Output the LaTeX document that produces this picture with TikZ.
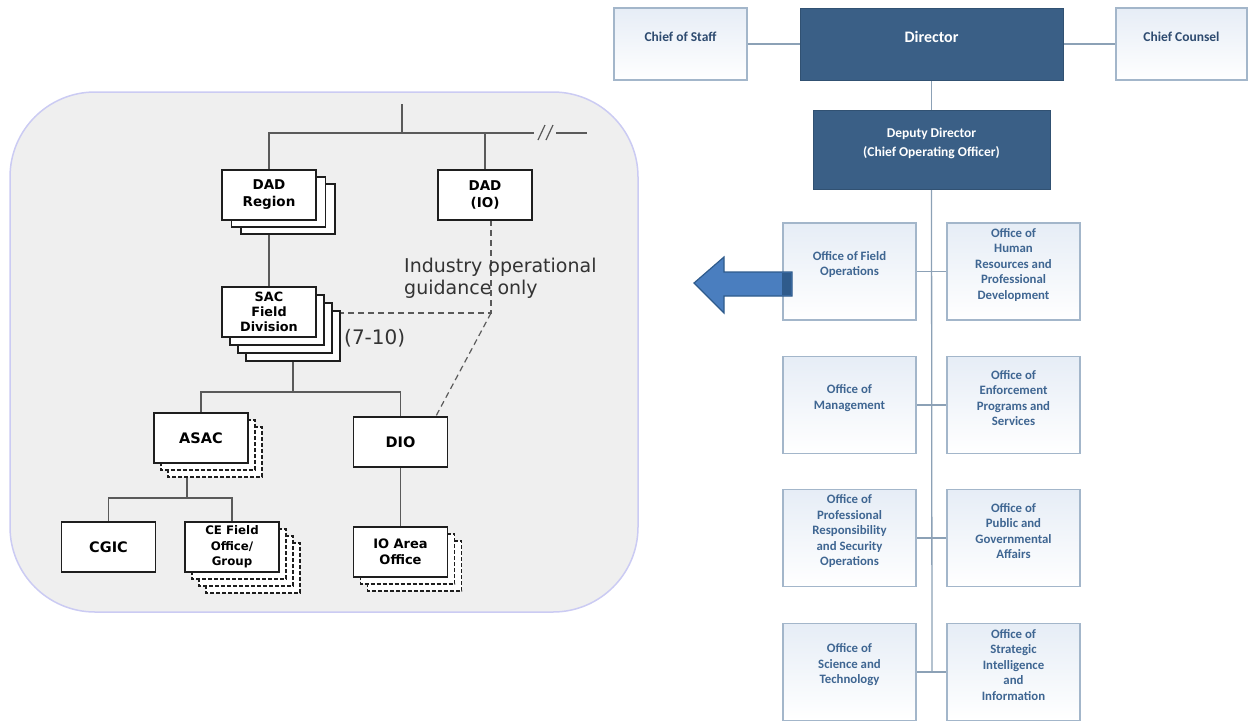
\documentclass[tikz,border=0pt]{standalone}
\usepackage{fontspec}
\usepackage{tikz}
\usetikzlibrary{positioning, backgrounds, calc}
\setmainfont{DejaVu Sans}
\newfontfamily\vfont{DejaVu Sans}
\newfontfamily\cfont{Carlito}
\pgfdeclarelayer{lines}
\pgfsetlayers{background,lines,main}
\definecolor{panelgray}{HTML}{EFEFEF}
\definecolor{panelrim}{HTML}{CBCBF3}
\definecolor{treegray}{HTML}{5A5A5A}
\definecolor{boxblack}{HTML}{1E1E1E}
\definecolor{dirblue}{HTML}{3A5F86}
\definecolor{ofcrim}{HTML}{A3B6CA}
\definecolor{ofctop}{HTML}{E6EDF6}
\definecolor{ofctext}{HTML}{3F6692}
\definecolor{chieftext}{HTML}{2E4B70}
\definecolor{orgline}{HTML}{8CA1B6}
\definecolor{arrowfill}{HTML}{4A7EBF}
\definecolor{arrowrim}{HTML}{2F5B8C}
\tikzset{
  unit/.style={rectangle, draw=boxblack, line width=1.5pt, fill=white, outer sep=0pt,
    minimum width=94pt, minimum height=50pt, inner sep=1pt, align=center,
    font=\vfont\bfseries\fontsize{13.5}{17}\selectfont},
  unit/big/.style={font=\vfont\bfseries\fontsize{14.5}{17}\selectfont},
  stkln/.style={draw=boxblack, fill=white, line width=1.5pt},
  stkdsh/.style={stkln, line width=1.8pt, dash pattern=on 4pt off 2pt},
  tree/.style={draw=treegray, line width=1.2pt},
  guide/.style={tree, dash pattern=on 6pt off 4pt},
  note/.style={font=\vfont\fontsize{19}{22}\selectfont, text=black!80, align=left, inner sep=0pt},
  ofc/.style={rectangle, draw=ofcrim, line width=1.2pt, top color=ofctop, bottom color=white,
    minimum width=133pt, minimum height=97pt},
  ofclbl/.style={font=\cfont\bfseries\fontsize{12.8}{15.5}\selectfont, text=ofctext, align=center},
  chief/.style={rectangle, draw=ofcrim, line width=1.2pt, top color=ofctop, bottom color=white,
    minimum width=133pt, minimum height=72pt},
  chieflbl/.style={font=\cfont\bfseries\fontsize{13.5}{16}\selectfont, text=chieftext, align=center},
  dir/.style={rectangle, draw=dirblue!85!black, line width=0.8pt, fill=dirblue,
    minimum width=263pt, minimum height=72pt},
  dirlbl/.style={font=\cfont\bfseries\fontsize{16}{19}\selectfont, text=white, align=center},
  orgln/.style={draw=orgline, line width=1.3pt},
}
% stacked copies behind a unit: node, x step, y step, count, style
\newcommand{\STK}[5]{%
  \foreach \k in {#4,...,1}{%
    \draw[#5] ([shift={(\k*#2,\k*#3)}]#1.north west) rectangle ([shift={(\k*#2,\k*#3)}]#1.south east);}%
}

\begin{document}
\begin{tikzpicture}[x=1pt, y=-1pt]
\useasboundingbox (0,0) rectangle (1248,721);

%% ===== FIELD OPERATIONS PANEL =====
\node[unit] (DADR) at (269,195) {DAD\\Region};
\node[unit] (DADIO) at (485,195) {DAD\\(IO)};
\node[unit, font=\vfont\bfseries\fontsize{12.8}{15}\selectfont] (SAC) at (269,312) {SAC\\Field\\Division};
\node[unit, unit/big] (ASAC) at (201,438) {ASAC};
\node[unit, unit/big] (DIO) at (400.5,442) {DIO};
\node[unit, unit/big] (CGIC) at (108.5,547) {CGIC};
\node[unit, font=\vfont\bfseries\fontsize{11.8}{15.5}\selectfont] (CEFO) at (232,547) {CE Field\\Office/\\Group};
\node[unit, font=\vfont\bfseries\fontsize{13}{16}\selectfont] (IOAO) at (400.5,552) {IO Area\\Office};

\node[note, anchor=west] (GUIDE) at (404,278) {Industry operational\\guidance only};
\node[note, anchor=west, font=\vfont\fontsize{20}{22}\selectfont] (COUNT) at (344,338) {(7-10)};

\coordinate (TOP)  at (402,104);
\coordinate (BAR)  at (402,133);
\coordinate (BRK)  at (534,133);
\coordinate (BRKR) at (587,133);
\coordinate (JSAC) at (293,392);
\coordinate (JASAC) at (187,498);
\coordinate (BEND) at (491,313);

%% ===== DIRECTORATE =====
\node[chief, label={[chieflbl, yshift=7pt]center:Chief of Staff}] (COS) at (680.5,44) {};
\node[dir, label={[dirlbl, yshift=7pt]center:Director}] (DIR) at (931.5,44) {};
\node[chief, minimum width=131pt, label={[chieflbl, yshift=7pt]center:Chief Counsel}] (CC) at (1181.5,44) {};
\node[dir, minimum width=237pt, minimum height=79pt,
  label={[dirlbl, font=\cfont\bfseries\fontsize{13.5}{19}\selectfont, yshift=6pt]center:{Deputy Director\\(Chief Operating Officer)}}] (DD) at (931.5,149.5) {};

% -- offices --
\node[ofc, label={[ofclbl, yshift=7pt]center:{Office of Field\\Operations}}] (OFO) at (849.5,271.5) {};
\node[ofc, label={[ofclbl, yshift=7pt]center:{Office of\\Human\\Resources and\\Professional\\Development}}] (OHR) at (1013.5,271.5) {};
\node[ofc, label={[ofclbl, yshift=7pt]center:{Office of\\Management}}] (OOM) at (849.5,405) {};
\node[ofc, label={[ofclbl, yshift=7pt]center:{Office of\\Enforcement\\Programs and\\Services}}] (OEP) at (1013.5,405) {};
\node[ofc, label={[ofclbl, yshift=7pt]center:{Office of\\Professional\\Responsibility\\and Security\\Operations}}] (OPR) at (849.5,538) {};
\node[ofc, label={[ofclbl, yshift=7pt]center:{Office of\\Public and\\Governmental\\Affairs}}] (OPA) at (1013.5,538) {};
\node[ofc, label={[ofclbl, yshift=7pt]center:{Office of\\Science and\\Technology}}] (OST) at (849.5,672) {};
\node[ofc, label={[ofclbl, yshift=7pt]center:{Office of\\Strategic\\Intelligence\\and\\Information}}] (OSI) at (1013.5,672) {};

\coordinate (SPINE) at (932,671);

% -- pointer arrow --
\filldraw[fill=arrowfill, draw=arrowrim, line width=1.2pt, line join=miter]
  (694,283) -- (724,257) -- (724,272) -- (792,272) -- (792,296) -- (724,296) -- (724,313) -- cycle;
\fill[arrowrim] (782,272.6) rectangle (791.4,295.4);

\begin{scope}[on background layer]
  \fill[panelgray] (10,92) [rounded corners=85pt] rectangle (638,612);
  \draw[panelrim, line width=1.5pt, rounded corners=85pt] (10,92) rectangle (638,612);
\end{scope}

\begin{pgfonlayer}{lines}
\draw[tree] (TOP) -- (BAR);
\draw[tree] (DADR.north) |- (BRK);
\draw[tree] (DADIO.north) -- (DADIO.north |- BAR);
\draw[tree] (538,140) -- (545,125) (546,140) -- (553,125);
\draw[tree] (556,133) -- (BRKR);
\draw[tree] (DADR.south) -- (SAC.north);
\draw[tree] (SAC.center -| JSAC) -- (JSAC);
\draw[tree] (ASAC.north) |- (DIO.north |- JSAC) -- (DIO.north);
\draw[tree] (ASAC.center -| JASAC) -- (JASAC);
\draw[tree] (CGIC.north) |- (CEFO.north |- JASAC) -- (CEFO.north);
\draw[tree] (DIO.south) -- (IOAO.north);
\draw[guide] (DADIO.south -| BEND) -- (BEND) -- (SAC.center |- BEND);
\draw[guide] (BEND) -- ([xshift=-12pt]DIO.north east);
% -- stacked copies --
\STK{DADR}{9.5}{7}{2}{stkln}
\STK{SAC}{8}{8}{3}{stkln}
\STK{ASAC}{7}{7}{2}{stkdsh}
\STK{CEFO}{7}{7}{3}{stkdsh}
\STK{IOAO}{7}{7}{2}{stkdsh}

\draw[orgln] (COS.east) -- (DIR.west);
\draw[orgln] (DIR.east) -- (CC.west);
\draw[orgln] (DIR.south) -- (DD.north);
\draw[orgln] (DD.south) -- (SPINE);
\draw[orgln] (OFO.east) -- (OHR.west);
\draw[orgln] (OOM.east) -- (OEP.west);
\draw[orgln] (OPR.east) -- (OPA.west);
\draw[orgln] (OST.east) -- (OSI.west);
\end{pgfonlayer}
\end{tikzpicture}
\end{document}
